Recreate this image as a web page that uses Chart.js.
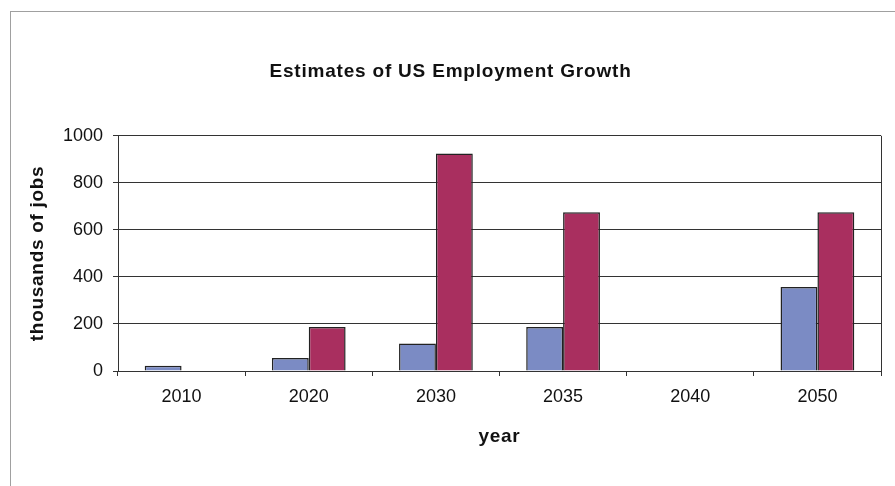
<!DOCTYPE html>
<html>
<head>
<meta charset="utf-8">
<script src="https://cdn.jsdelivr.net/npm/chart.js@4"></script>
<style>
    html, body { margin: 0; padding: 0; background: #fff; }
    #wrap { position: relative; width: 895px; height: 486px; }
    #frame { position: absolute; left: 10px; top: 11px; right: -5px; bottom: -5px;
             border-left: 1px solid #a0a0a0; border-top: 1px solid #a0a0a0; }
    canvas { position: absolute; left: 0; top: 0; }
</style>
</head>
<body>
<div id="wrap">
    <div id="frame"></div>
    <canvas id="jobsChart" width="895" height="486"></canvas>
</div>
<script>
let years = ["2010", "2020", "2030", "2035", "2040", "2050"];
let seriesA = [22, 55, 117, 187, 0, 357];
let seriesB = [0, 187, 925, 675, 0, 675];
let yTicks = [0, 200, 400, 600, 800, 1000];

const font = "'Liberation Sans', Arial, sans-serif";

// wrap a draw method so its text gets some letter spacing
function spaced(obj, name, ctx, spacing) {
    if (obj['_sp_' + name]) return;
    const orig = obj[name].bind(obj);
    obj[name] = function() {
        ctx.save();
        ctx.letterSpacing = spacing;
        orig.apply(null, arguments);
        ctx.restore();
    };
    obj['_sp_' + name] = true;
}

const textSpacing = {
    id: 'textSpacing',
    beforeDraw(chart) {
        spaced(chart.titleBlock, 'draw', chart.ctx, '0.8px');
        spaced(chart.scales.x, 'drawTitle', chart.ctx, '0.7px');
        spaced(chart.scales.y, 'drawTitle', chart.ctx, '0.7px');
    }
};

// right edge of the plot box
const plotFrame = {
    id: 'plotFrame',
    afterDraw(chart) {
        const a = chart.chartArea;
        const ctx = chart.ctx;
        ctx.save();
        ctx.strokeStyle = '#333';
        ctx.lineWidth = 1;
        ctx.beginPath();
        ctx.moveTo(Math.round(a.right) + 0.5, a.top);
        ctx.lineTo(Math.round(a.right) + 0.5, a.bottom + 5);
        ctx.stroke();
        ctx.restore();
    }
};

new Chart(document.getElementById('jobsChart').getContext('2d'), {
    type: 'bar',
    data: {
        labels: years,
        datasets: [{
            data: seriesA,
            backgroundColor: '#7B8BC4',
            borderColor: '#222',
            borderWidth: 1.5
        }, {
            data: seriesB,
            backgroundColor: '#A92F5F',
            borderColor: '#222',
            borderWidth: 1.5
        }]
    },
    options: {
        responsive: false,
        animation: false,
        layout: { padding: { left: 20, right: 14, top: 60, bottom: 30 } },
        datasets: { bar: { categoryPercentage: 0.58, barPercentage: 1 } },
        plugins: {
            legend: { display: false },
            tooltip: { enabled: false },
            title: {
                display: true,
                text: 'Estimates of US Employment Growth',
                color: '#111',
                font: { family: font, size: 19, weight: 'bold' },
                padding: { top: 0, bottom: 53 }
            }
        },
        scales: {
            x: {
                grid: { offset: true, drawOnChartArea: false, color: '#333', tickLength: 5 },
                border: { color: '#333' },
                ticks: { color: '#111', font: { family: font, size: 18 }, padding: 10 },
                title: {
                    display: true, text: 'year', color: '#111',
                    font: { family: font, size: 19, weight: 'bold' },
                    padding: { top: 0, bottom: 8 }
                },
                afterFit(axis) { axis.height = 85; }
            },
            y: {
                min: 0,
                max: 1000,
                afterBuildTicks(axis) { axis.ticks = yTicks.map(v => ({ value: v })); },
                grid: { color: '#333', tickLength: 5 },
                border: { color: '#333' },
                ticks: {
                    color: '#111', font: { family: font, size: 18 }, padding: 10,
                    callback: v => String(v)
                },
                title: {
                    display: true, text: 'thousands of jobs', color: '#111',
                    font: { family: font, size: 19, weight: 'bold' },
                    padding: { top: 6, bottom: 0 }
                },
                afterFit(axis) { axis.width = 98; }
            }
        }
    },
    plugins: [textSpacing, plotFrame]
});
</script>
</body>
</html>
